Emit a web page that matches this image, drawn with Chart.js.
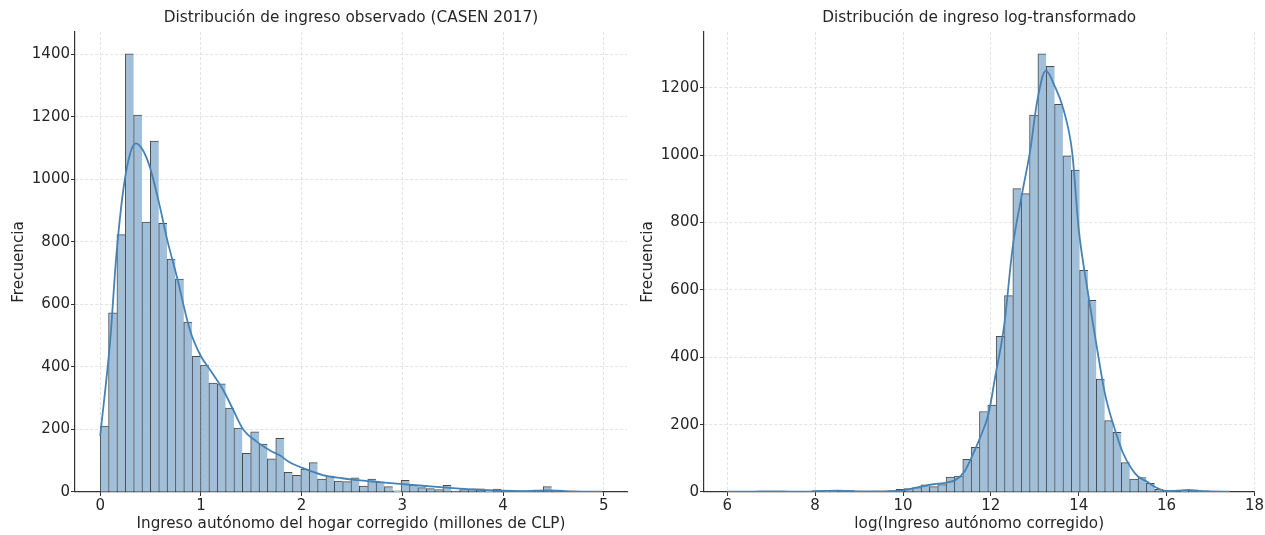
<!DOCTYPE html>
<html lang="es">
<head>
<meta charset="utf-8">
<title>Distribución de ingreso</title>
<script src="https://cdn.jsdelivr.net/npm/chart.js@4.4.1/dist/chart.umd.min.js"></script>
<style>
  html, body { margin: 0; padding: 0; background: #fff; }
  #wrap { position: relative; width: 1265px; height: 535px; }
  .panel { position: absolute; top: 0; height: 535px; }
  #left { left: 0; width: 640px; }
  #right { left: 640px; width: 625px; }
</style>
</head>
<body>
<div id="wrap">
  <div class="panel" id="left"><canvas id="leftChart" width="640" height="535"></canvas></div>
  <div class="panel" id="right"><canvas id="rightChart" width="625" height="535"></canvas></div>
</div>
<script>
// left panel: income in millions of CLP, 60 bins
const leftBinStart = 0;
const leftBinWidth = 0.083;
const leftCounts = [
    211, 573, 823, 1401, 1205, 863, 1122, 859, 745, 681,
    543, 434, 406, 348, 346, 268, 204, 124, 192, 153,
    106, 172, 63, 53, 73, 94, 41, 51, 35, 33,
    45, 19, 41, 32, 17, 4, 37, 21, 14, 11,
    8, 21, 3, 8, 10, 10, 5, 9, 3, 2,
    4, 2, 3, 17, 3, 2, 1, 1, 1, 2
];
const leftKdeX = [0, 0.1, 0.16, 0.23, 0.3, 0.355, 0.42, 0.49, 0.58, 0.665, 0.76, 0.89, 1.0, 1.09, 1.22, 1.32, 1.42, 1.55, 1.69, 1.78, 1.88, 2.0, 2.21, 2.4, 2.55, 2.8, 3.0, 3.2, 3.44, 3.7, 4.0, 4.2, 4.43, 4.7, 4.98];
const leftKdeY = [179, 487, 754, 968, 1085, 1115, 1095, 1042, 930, 807, 690, 519, 434, 391, 327, 263, 200, 162, 132, 118, 95, 78, 54, 44, 38, 31, 25, 20, 14, 8, 4, 3, 5, 2, 1];
const leftXTicks = [0, 1, 2, 3, 4, 5];
const leftYTicks = [0, 200, 400, 600, 800, 1000, 1200, 1400];

// right panel: log income, 60 bins
const rightBinStart = 6.04;
const rightBinWidth = 0.19;
const rightCounts = [
    1, 0, 1, 0, 2, 1, 0, 1, 1, 2,
    4, 3, 2, 5, 4, 1, 2, 3, 2, 4,
    8, 10, 13, 21, 16, 22, 44, 47, 97, 133,
    239, 258, 462, 583, 901, 886, 1119, 1301, 1264, 1151,
    998, 956, 658, 569, 335, 212, 177, 87, 38, 43,
    26, 8, 2, 1, 2, 5, 3, 1, 0, 1
];
const rightKdeX = [6.0, 6.5, 7.0, 7.5, 8.0, 8.5, 9.0, 9.5, 9.9, 10.4, 10.7, 11.0, 11.2, 11.4, 11.55, 11.75, 11.95, 12.1, 12.3, 12.5, 12.7, 12.9, 13.05, 13.25, 13.45, 13.65, 13.85, 14.0, 14.2, 14.4, 14.6, 14.8, 15.0, 15.2, 15.35, 15.55, 15.75, 16.0, 16.25, 16.5, 16.75, 17.0, 17.44];
const rightKdeY = [1, 1, 2, 1, 2, 4, 2, 2, 3, 16, 23, 28, 36, 61, 100, 160, 234, 343, 492, 730, 879, 1018, 1157, 1251, 1206, 1137, 1010, 780, 600, 440, 290, 195, 118, 70, 46, 31, 14, 3, 4, 6, 3, 2, 1];
const rightXTicks = [6, 8, 10, 12, 14, 16, 18];
const rightYTicks = [0, 200, 400, 600, 800, 1000, 1200];

const textColor = "#262626";
const axisColor = "#333333";
const gridColor = "#dcdcdc";
const barFill = "rgb(162,191,217)";
const barEdge = "rgba(0,0,0,0.7)";
const kdeColor = "#4682b4";
const fontFamily = "'DejaVu Sans', sans-serif";

function binPoints(start, width, counts) {
    return counts.map((c, i) => ({ x: start + (i + 0.5) * width, y: c }));
}

function pairPoints(xs, ys) {
    return xs.map((x, i) => ({ x: x, y: ys[i] }));
}

function axisOptions(min, max, tickValues, extra) {
    return Object.assign({
        min: min,
        max: max,
        offset: false,
        afterBuildTicks: s => { s.ticks = tickValues.map(v => ({ value: v })); },
        ticks: {
            color: textColor,
            maxRotation: 0,
            autoSkip: false,
            callback: v => String(v),
            font: { family: fontFamily, size: 15 }
        },
        grid: {
            offset: false,
            color: gridColor,
            lineWidth: 0.8,
            tickLength: 4,
            tickColor: axisColor,
            tickWidth: 1,
            tickBorderDash: []
        },
        border: { color: axisColor, width: 1.2, dash: [3, 2] }
    }, extra);
}

function makeHist(canvasId, cfg) {
    const ctx = document.getElementById(canvasId).getContext("2d");

    const xAxis = axisOptions(cfg.xMin, cfg.xMax, cfg.xTicks, {
        type: "linear",
        afterFit: s => { s.height = 43; },
        title: {
            display: true,
            text: cfg.xLabel,
            color: textColor,
            font: { family: fontFamily, size: 15.2 },
            padding: { top: 0, bottom: 1.9 }
        }
    });
    xAxis.ticks.padding = 1;

    const yAxis = axisOptions(0, cfg.yMax, cfg.yTicks, {
        type: "linear",
        afterFit: s => { s.width = cfg.yWidth; },
        title: {
            display: true,
            text: "Frecuencia",
            color: textColor,
            font: { family: fontFamily, size: 15.2 },
            padding: { top: cfg.yTitlePad, bottom: 0 }
        }
    });
    yAxis.ticks.padding = 1;

    return new Chart(ctx, {
        type: "bar",
        data: {
            datasets: [
                {
                    type: "line",
                    data: pairPoints(cfg.kdeX, cfg.kdeY),
                    borderColor: kdeColor,
                    borderWidth: 1.8,
                    pointRadius: 0,
                    tension: 0.4,
                    cubicInterpolationMode: "monotone",
                    order: 0
                },
                {
                    type: "bar",
                    data: binPoints(cfg.binStart, cfg.binWidth, cfg.counts),
                    backgroundColor: barFill,
                    borderColor: barEdge,
                    borderWidth: { top: 1, left: 1, right: 0, bottom: 0 },
                    borderSkipped: false,
                    barPercentage: 1,
                    categoryPercentage: 1,
                    order: 1
                }
            ]
        },
        options: {
            responsive: false,
            animation: false,
            layout: { padding: { right: cfg.padRight } },
            plugins: {
                legend: { display: false },
                tooltip: { enabled: false },
                title: {
                    display: true,
                    text: cfg.title,
                    color: textColor,
                    fullSize: false,
                    font: { family: fontFamily, size: 15.3, weight: "normal" },
                    padding: { top: 8.8, bottom: 4.8 }
                }
            },
            scales: { x: xAxis, y: yAxis }
        }
    });
}

document.addEventListener("DOMContentLoaded", function () {
    makeHist("leftChart", {
        title: "Distribución de ingreso observado (CASEN 2017)",
        xLabel: "Ingreso autónomo del hogar corregido (millones de CLP)",
        binStart: leftBinStart,
        binWidth: leftBinWidth,
        counts: leftCounts,
        kdeX: leftKdeX,
        kdeY: leftKdeY,
        xTicks: leftXTicks,
        yTicks: leftYTicks,
        xMin: -0.25,
        xMax: 5.23,
        yMax: 1471,
        yWidth: 75,
        yTitlePad: 9.9,
        padRight: 13
    });

    makeHist("rightChart", {
        title: "Distribución de ingreso log-transformado",
        xLabel: "log(Ingreso autónomo corregido)",
        binStart: rightBinStart,
        binWidth: rightBinWidth,
        counts: rightCounts,
        kdeX: rightKdeX,
        kdeY: rightKdeY,
        xTicks: rightXTicks,
        yTicks: rightYTicks,
        xMin: 5.47,
        xMax: 18,
        yMax: 1366,
        yWidth: 64,
        yTitlePad: -1,
        padRight: 9
    });
});
</script>
</body>
</html>
